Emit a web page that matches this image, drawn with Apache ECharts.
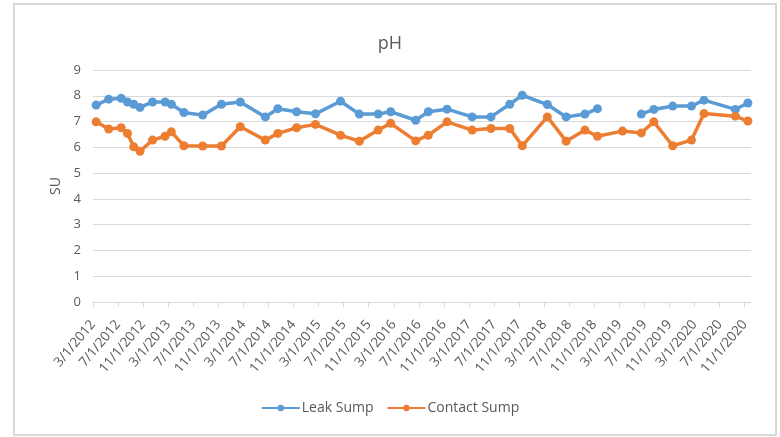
<!DOCTYPE html>
<html>
<head>
<meta charset="utf-8">
<script src="https://cdn.jsdelivr.net/npm/echarts@6/dist/echarts.min.js"></script>
<style>html,body{margin:0;padding:0;background:#fff;}#c{width:780px;height:437px;}</style>
</head>
<body>
<div id="c"></div>
<script>
// Sampling months (Excel date axis, base unit = month)
const sampleMonths = ['2012-03','2012-05','2012-07','2012-08','2012-09','2012-10','2012-12','2013-02','2013-03','2013-05',
  '2013-08','2013-11','2014-02','2014-06','2014-08','2014-11','2015-02','2015-06','2015-09','2015-12',
  '2016-02','2016-06','2016-08','2016-11','2017-03','2017-06','2017-09','2017-11','2018-03','2018-06',
  '2018-09','2018-11','2019-03','2019-06','2019-08','2019-11','2020-02','2020-04','2020-09','2020-11'];
const leakSump = [7.64,7.87,7.90,7.76,7.67,7.55,7.76,7.76,7.67,7.35,
  7.25,7.67,7.76,7.18,7.50,7.38,7.30,7.79,7.29,7.29,
  7.38,7.05,7.38,7.48,7.18,7.18,7.67,8.02,7.66,7.18,
  7.29,7.50,null,7.29,7.47,7.60,7.60,7.83,7.47,7.72];
const contactSump = [6.99,6.71,6.76,6.54,6.02,5.85,6.28,6.43,6.60,6.06,
  6.05,6.05,6.80,6.28,6.54,6.76,6.89,6.47,6.24,6.67,
  6.93,6.25,6.47,6.99,6.67,6.73,6.73,6.06,7.18,6.24,
  6.67,6.43,6.63,6.56,6.99,6.06,6.28,7.31,7.21,7.02];
const tickLabels = ['3/1/2012','7/1/2012','11/1/2012','3/1/2013','7/1/2013','11/1/2013','3/1/2014','7/1/2014','11/1/2014',
  '3/1/2015','7/1/2015','11/1/2015','3/1/2016','7/1/2016','11/1/2016','3/1/2017','7/1/2017','11/1/2017',
  '3/1/2018','7/1/2018','11/1/2018','3/1/2019','7/1/2019','11/1/2019','3/1/2020','7/1/2020','11/1/2020'];
const yTicks = [0,1,2,3,4,5,6,7,8,9];

// month slot index from 3/2012; points sit in the middle of their month slot
function slot(s){ const [y,m] = s.split('-').map(Number); return (y-2012)*12 + (m-3) + 0.5; }
const tickValues = tickLabels.map((_,i)=>i*4);
const toPairs = arr => arr.map((v,i)=>[slot(sampleMonths[i]), v===null ? '-' : v]);

const chart = echarts.init(document.getElementById('c'), null, {renderer:'canvas'});
const txt = '#595959';
chart.setOption({
  animation:false,
  backgroundColor:'#fff',
  graphic:[{type:'rect', shape:{x:14,y:4,width:762,height:431}, style:{fill:'none', stroke:'#d9d9d9', lineWidth:2}, silent:true}],
  title:{text:'pH', left:'center', top:30, textStyle:{fontFamily:'Open Sans', fontSize:18, fontWeight:'normal', color:txt}},
  grid:{left:93, right:29, top:70, bottom:135},
  legend:{bottom:17, left:'center', itemWidth:38, itemHeight:8, itemGap:13,
    textStyle:{fontFamily:'Open Sans', fontSize:14, color:txt, padding:[0,0,0,-3]},
    data:['Leak Sump','Contact Sump']},
  xAxis:{type:'value', min:0, max:105, interval:4,
    axisLine:{show:true, lineStyle:{color:'#d9d9d9', width:1}},
    axisTick:{show:true, length:5, lineStyle:{color:'#d9d9d9'}, customValues:tickValues},
    splitLine:{show:false},
    axisLabel:{rotate:50, fontFamily:'Open Sans', fontSize:13.5, color:txt, margin:20,
      customValues:tickValues,
      formatter:v=> (v%4===0 && tickLabels[v/4]) ? tickLabels[v/4] : ''}},
  yAxis:{type:'value', min:0, max:9, interval:1, name:'SU', nameLocation:'middle', nameRotate:90, nameGap:28,
    nameTextStyle:{fontFamily:'Open Sans', fontSize:14, color:txt},
    axisLine:{show:false}, axisTick:{show:false},
    splitLine:{lineStyle:{color:'#d9d9d9', width:1}},
    axisLabel:{fontFamily:'Open Sans', fontSize:13, color:txt, margin:12, formatter:v=>yTicks.includes(v)?String(v):''}},
  series:[
    {name:'Leak Sump', type:'line', data:toPairs(leakSump), connectNulls:false,
      symbol:'circle', symbolSize:9, color:'#5B9BD5', lineStyle:{width:3.5, color:'#5B9BD5'}, itemStyle:{color:'#5B9BD5'}},
    {name:'Contact Sump', type:'line', data:toPairs(contactSump),
      symbol:'circle', symbolSize:9, color:'#ED7D31', lineStyle:{width:3.5, color:'#ED7D31'}, itemStyle:{color:'#ED7D31'}}
  ]
});
</script>
</body>
</html>
